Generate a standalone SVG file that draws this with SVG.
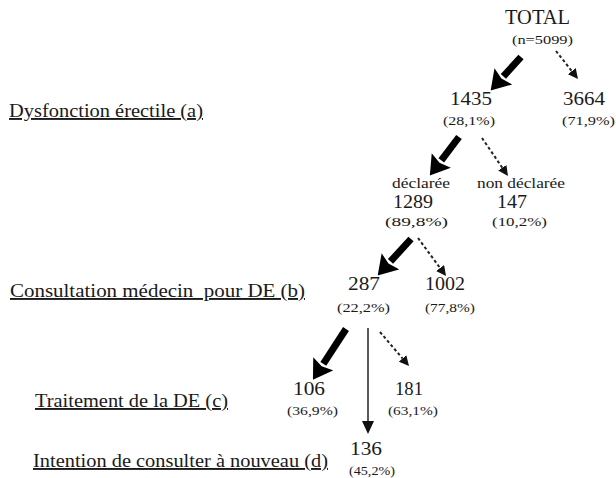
<svg xmlns="http://www.w3.org/2000/svg" width="616" height="478" viewBox="0 0 616 478">
<style>
text{font-family:"Liberation Serif","Tinos","DejaVu Serif","Noto Serif",serif;fill:#1a1a1a}
.big{font-size:20px}
.num{font-size:18px}
.pct{font-size:13px}
.lbl{font-size:19px;text-decoration:underline}
.sub{font-size:14px}
.thick{stroke:#000;stroke-width:7;fill:none}
.dash{stroke:#222;stroke-width:2;stroke-dasharray:3 2.5;fill:none}
.thin{stroke:#222;stroke-width:1.5;fill:none}
</style>
<defs>
<marker id="hb" markerUnits="userSpaceOnUse" markerWidth="19" markerHeight="24" refX="0" refY="12" orient="auto"><path d="M0,0 L19,12 L0,24 L3,12 Z" fill="#000"/></marker>
<marker id="hs" markerUnits="userSpaceOnUse" markerWidth="10" markerHeight="10" refX="0" refY="5" orient="auto"><path d="M0,0 L10,5 L0,10 Z" fill="#111"/></marker>
<marker id="hv" markerUnits="userSpaceOnUse" markerWidth="13" markerHeight="12" refX="0" refY="6" orient="auto"><path d="M0,0 L13,6 L0,12 Z" fill="#111"/></marker>
</defs>
<rect width="616" height="478" fill="#fff"/>
<g id="labels">
<text class="lbl" x="9" y="117" textLength="194" lengthAdjust="spacingAndGlyphs">Dysfonction érectile (a)</text>
<text class="lbl" x="10" y="297" textLength="295" lengthAdjust="spacingAndGlyphs" xml:space="preserve">Consultation médecin  pour DE (b)</text>
<text class="lbl" x="35" y="407" textLength="193" lengthAdjust="spacingAndGlyphs">Traitement de la DE (c)</text>
<text class="lbl" x="33" y="467" textLength="295" lengthAdjust="spacingAndGlyphs">Intention de consulter à nouveau (d)</text>
</g>
<g id="connectors">
<line class="thick" x1="521" y1="57" x2="503.4" y2="76.4" marker-end="url(#hb)"/>
<line class="thick" x1="459" y1="137" x2="441.3" y2="160.4" marker-end="url(#hb)"/>
<line class="thick" x1="411" y1="239" x2="390.5" y2="261.4" marker-end="url(#hb)"/>
<line class="thick" x1="346" y1="329" x2="323.3" y2="363.8" marker-end="url(#hb)"/>
<line class="dash" x1="556" y1="51" x2="571.8" y2="71.1" marker-end="url(#hs)"/>
<line class="dash" x1="482" y1="138" x2="502.3" y2="167.7" marker-end="url(#hs)"/>
<line class="dash" x1="418" y1="238" x2="440.1" y2="268" marker-end="url(#hs)"/>
<line class="dash" x1="380" y1="332" x2="402.5" y2="358.4" marker-end="url(#hs)"/>
<line class="thin" x1="368" y1="328" x2="368" y2="421" marker-end="url(#hv)"/>
</g>
<g id="total">
<text class="big" x="505" y="24" textLength="65" lengthAdjust="spacingAndGlyphs">TOTAL</text>
<text class="pct" x="512" y="44" textLength="61" lengthAdjust="spacingAndGlyphs">(n=5099)</text>
</g>
<g id="n1435">
<text class="num" x="450" y="105" textLength="42" lengthAdjust="spacingAndGlyphs">1435</text>
<text class="pct" x="443" y="125" textLength="52" lengthAdjust="spacingAndGlyphs">(28,1%)</text>
</g>
<g id="n3664">
<text class="num" x="563" y="105" textLength="42" lengthAdjust="spacingAndGlyphs">3664</text>
<text class="pct" x="562" y="125" textLength="53" lengthAdjust="spacingAndGlyphs">(71,9%)</text>
</g>
<g id="n1289">
<text class="sub" x="392" y="188" textLength="58" lengthAdjust="spacingAndGlyphs">déclarée</text>
<text class="num" x="393" y="208" textLength="40" lengthAdjust="spacingAndGlyphs">1289</text>
<text class="pct" x="385" y="226" textLength="63" lengthAdjust="spacingAndGlyphs">(89,8%)</text>
</g>
<g id="n147">
<text class="sub" x="477" y="188" textLength="88" lengthAdjust="spacingAndGlyphs">non déclarée</text>
<text class="num" x="497" y="208" textLength="30" lengthAdjust="spacingAndGlyphs">147</text>
<text class="pct" x="492" y="226" textLength="55" lengthAdjust="spacingAndGlyphs">(10,2%)</text>
</g>
<g id="n287">
<text class="num" x="348" y="290" textLength="32" lengthAdjust="spacingAndGlyphs">287</text>
<text class="pct" x="337" y="312" textLength="53" lengthAdjust="spacingAndGlyphs">(22,2%)</text>
</g>
<g id="n1002">
<text class="num" x="425" y="290" textLength="40" lengthAdjust="spacingAndGlyphs">1002</text>
<text class="pct" x="425" y="312" textLength="50" lengthAdjust="spacingAndGlyphs">(77,8%)</text>
</g>
<g id="n106">
<text class="num" x="293" y="395" textLength="32" lengthAdjust="spacingAndGlyphs">106</text>
<text class="pct" x="287" y="415" textLength="51" lengthAdjust="spacingAndGlyphs">(36,9%)</text>
</g>
<g id="n181">
<text class="num" x="395" y="395" textLength="28" lengthAdjust="spacingAndGlyphs">181</text>
<text class="pct" x="388" y="415" textLength="50" lengthAdjust="spacingAndGlyphs">(63,1%)</text>
</g>
<g id="n136">
<text class="num" x="350" y="455" textLength="32" lengthAdjust="spacingAndGlyphs">136</text>
<text class="pct" x="349" y="475" textLength="46" lengthAdjust="spacingAndGlyphs">(45,2%)</text>
</g>
</svg>
